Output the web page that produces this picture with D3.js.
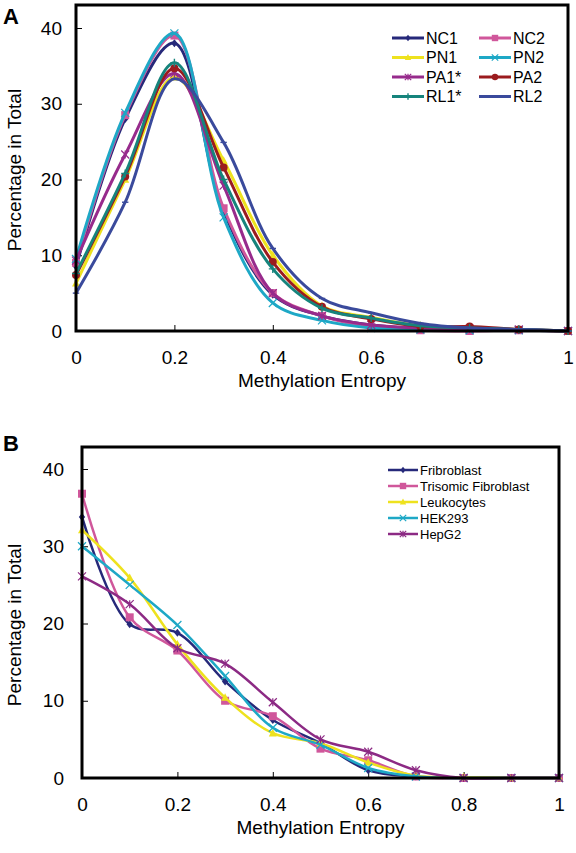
<!DOCTYPE html>
<html><head><meta charset="utf-8">
<script src="https://cdn.jsdelivr.net/npm/d3@7"></script>
<style>body{margin:0;background:#fff}svg{display:block;font-family:Arial,"Liberation Sans",sans-serif}</style>
</head><body><svg id="c" width="576" height="853"></svg>
<script>
const xVals = [0,0.1,0.2,0.3,0.4,0.5,0.6,0.7,0.8,0.9,1];
const xTicks = [0,0.2,0.4,0.6,0.8,1];
const yTicks = [0,10,20,30,40];

// Panel A series
const seriesA = ["NC1","NC2","PN1","PN2","PA1*","PA2","RL1*","RL2"];
const NC1 = [8.5,28.0,38.0,15.8,4.8,2.0,0.8,0.3,0.2,0.1,0];
const NC2 = [9.0,28.5,39.0,16.2,5.0,2.0,0.5,0.1,0.0,0.1,0];
const PN1 = [6.3,20.0,33.5,22.5,10.0,3.3,1.8,0.7,0.4,0.2,0];
const PN2 = [9.5,28.8,39.3,15.0,3.7,1.4,0.4,0.2,0.1,0.1,0];
const PA1 = [9.3,23.3,34.0,19.2,5.0,2.0,0.8,0.4,0.3,0.2,0];
const PA2 = [7.4,20.4,34.7,21.6,9.1,3.2,1.6,0.6,0.6,0.2,0];
const RL1 = [7.6,20.8,35.4,20.0,8.2,3.0,1.7,0.7,0.4,0.2,0];
const RL2 = [5.0,17.0,33.3,24.9,10.9,4.3,2.4,1.0,0.4,0.2,0];
const valuesA = [NC1,NC2,PN1,PN2,PA1,PA2,RL1,RL2];
const colorsA = ["#26297a","#d0579b","#eee21e","#1ea8c6","#972b8c","#9b1b1e","#16847c","#3a4a9c"];
const markersA = ["diamond","square","triangle","x","star","circle","plus","dash"];

// Panel B series
const seriesB = ["Fribroblast","Trisomic Fibroblast","Leukocytes","HEK293","HepG2"];
const Fib = [33.8,19.9,18.8,12.5,7.5,4.5,1.0,0.2,0,0,0];
const Tri = [36.8,20.8,16.5,10.0,8.0,3.8,2.3,0.2,0,0,0];
const Leu = [32.1,25.9,17.3,10.4,5.8,4.5,2.0,0.3,0.1,0,0];
const HEK = [30.0,25.0,19.8,13.2,6.5,4.3,1.3,0.2,0,0,0];
const Hep = [26.1,22.5,16.8,14.8,9.8,5.0,3.4,1.0,0,0,0];
const valuesB = [Fib,Tri,Leu,HEK,Hep];
const colorsB = ["#26297a","#d0579b","#eee21e","#1ea8c6","#8c2a84"];
const markersB = ["diamond","square","triangle","x","star"];

const svg = d3.select("#c");

function marker(g, type, x, y, color, s){
  if(type==="diamond"){g.append("path").attr("d",`M${x},${y-s}L${x+s*0.8},${y}L${x},${y+s}L${x-s*0.8},${y}Z`).attr("fill",color);}
  else if(type==="square"){g.append("rect").attr("x",x-s).attr("y",y-s).attr("width",2*s).attr("height",2*s).attr("fill",color);}
  else if(type==="triangle"){g.append("path").attr("d",`M${x},${y-s*1.1}L${x+s},${y+s*0.8}L${x-s},${y+s*0.8}Z`).attr("fill",color);}
  else if(type==="circle"){g.append("circle").attr("cx",x).attr("cy",y).attr("r",s).attr("fill",color);}
  else if(type==="x"){g.append("path").attr("d",`M${x-s},${y-s}L${x+s},${y+s}M${x-s},${y+s}L${x+s},${y-s}`).attr("stroke",color).attr("stroke-width",1.2);}
  else if(type==="plus"){g.append("path").attr("d",`M${x-s},${y}L${x+s},${y}M${x},${y-s}L${x},${y+s}`).attr("stroke",color).attr("stroke-width",1.4);}
  else if(type==="star"){g.append("path").attr("d",`M${x-s},${y-s}L${x+s},${y+s}M${x-s},${y+s}L${x+s},${y-s}M${x},${y-s}L${x},${y+s}`).attr("stroke",color).attr("stroke-width",1.2);}
  else if(type==="dash"){g.append("path").attr("d",`M${x-s*0.8},${y}L${x+s*0.8},${y}`).attr("stroke",color).attr("stroke-width",1.4);}
}

function panel(cfg){
  const x = d3.scaleLinear().domain([0,1]).range([cfg.left,cfg.right]);
  const y = d3.scaleLinear().domain([0,40]).range([cfg.bottom,cfg.y40]);
  const g = svg.append("g");
  g.append("g").attr("transform",`translate(${cfg.left},0)`)
    .call(d3.axisRight(y).tickValues(yTicks).tickSize(6).tickFormat(""))
    .call(a=>{a.select(".domain").remove();a.selectAll("line").attr("stroke","#000").attr("stroke-width",1);});
  g.append("g").attr("transform",`translate(${cfg.left},0)`)
    .call(d3.axisLeft(y).tickValues(yTicks).tickSize(0).tickPadding(cfg.ypad))
    .call(a=>{a.select(".domain").remove();a.selectAll("text").attr("font-size",cfg.tickFont).attr("font-family","Arial, 'Liberation Sans', sans-serif").attr("fill","#000");});
  g.append("g").attr("transform",`translate(0,${cfg.bottom})`)
    .call(d3.axisTop(x).tickValues(xTicks).tickSize(6).tickFormat(""))
    .call(a=>{a.select(".domain").remove();a.selectAll("line").attr("stroke","#000").attr("stroke-width",1);});
  g.append("g").attr("transform",`translate(0,${cfg.bottom})`)
    .call(d3.axisBottom(x).tickValues(xTicks).tickSize(0).tickPadding(cfg.xpad).tickFormat(d3.format("")))
    .call(a=>{a.select(".domain").remove();a.selectAll("text").attr("font-size",cfg.tickFont).attr("font-family","Arial, 'Liberation Sans', sans-serif").attr("fill","#000");});

  const line = d3.line().x((d,i)=>x(xVals[i])).y(d=>y(d)).curve(d3.curveCatmullRom.alpha(0.5));
  cfg.values.forEach((vals,k)=>{
    g.append("path").attr("d",line(vals)).attr("fill","none").attr("stroke",cfg.colors[k]).attr("stroke-width",cfg.lw).attr("stroke-linejoin","round");
    vals.forEach((v,i)=>marker(g,cfg.markers[k],x(xVals[i]),y(v),cfg.colors[k],cfg.ms));
  });
  g.append("rect").attr("x",cfg.left).attr("y",cfg.top).attr("width",cfg.right-cfg.left).attr("height",cfg.bottom-cfg.top)
    .attr("fill","none").attr("stroke","#000").attr("stroke-width",3);
  g.append("text").attr("x",(cfg.left+cfg.right)/2).attr("y",cfg.xTitleY).attr("text-anchor","middle").attr("font-size",cfg.titleFont).text("Methylation Entropy");
  g.append("text").attr("transform",`translate(${cfg.yTitleX},${cfg.yTitleY}) rotate(-90)`).attr("text-anchor","middle").attr("font-size",cfg.titleFont).text("Percentage in Total");
  g.append("text").attr("x",3).attr("y",cfg.letterY).attr("font-size",22).attr("font-weight","bold").text(cfg.letter);
  cfg.names.forEach((n,k)=>{
    const col = cfg.legCols>1 ? k%2 : 0;
    const row = cfg.legCols>1 ? Math.floor(k/2) : k;
    const lx = cfg.legX[col], ly = cfg.legY0 + row*cfg.legDy;
    g.append("line").attr("x1",lx).attr("x2",lx+cfg.legLen).attr("y1",ly).attr("y2",ly).attr("stroke",cfg.colors[k]).attr("stroke-width",cfg.lw);
    marker(g,cfg.markers[k],lx+cfg.legLen/2,ly,cfg.colors[k],cfg.ms*0.8);
    g.append("text").attr("x",lx+cfg.legLen+2).attr("y",ly).attr("dy","0.35em").attr("font-size",cfg.legFont).text(n);
  });
}

panel({left:76,right:568,top:5,bottom:331,y40:28,values:valuesA,colors:colorsA,markers:markersA,names:seriesA,
  lw:3,ms:4,tickFont:19,titleFont:19,ypad:14,xpad:20,xTitleY:387,yTitleX:21,yTitleY:170,letter:"A",letterY:24,
  legCols:2,legX:[392,479],legLen:32,legY0:38,legDy:19.5,legFont:16});
panel({left:82,right:559,top:447,bottom:778,y40:469,values:valuesB,colors:colorsB,markers:markersB,names:seriesB,
  lw:2.5,ms:4,tickFont:19,titleFont:19,ypad:18,xpad:20,xTitleY:834,yTitleX:21,yTitleY:625,letter:"B",letterY:451,
  legCols:1,legX:[388],legLen:30,legY0:470,legDy:16,legFont:13});
</script></body></html>
